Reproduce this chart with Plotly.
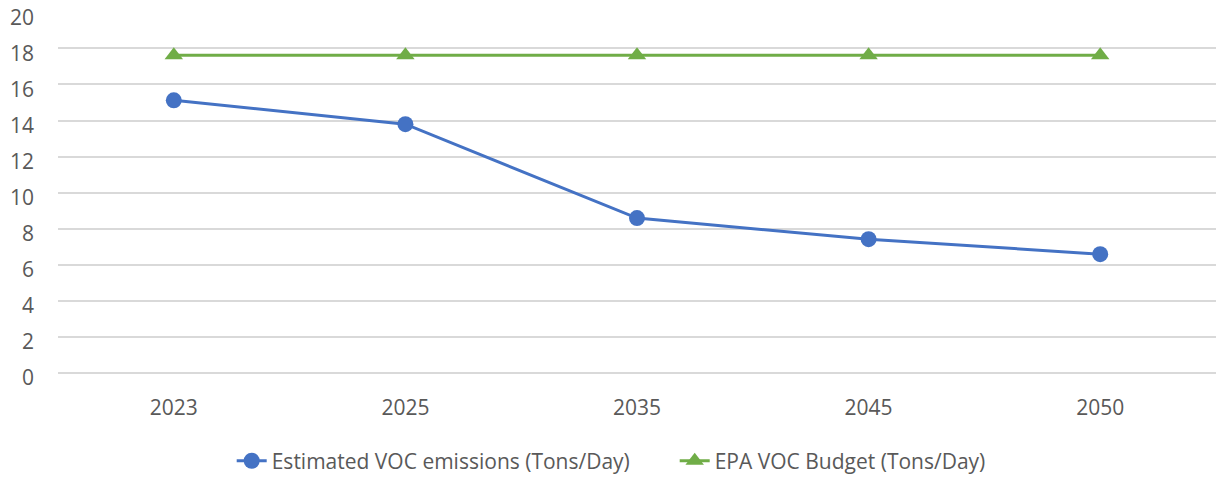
import plotly.graph_objects as go

# === PODACI ===
years = ["2023", "2025", "2035", "2045", "2050"]
voc_emissions = [15.12, 13.8, 8.59, 7.42, 6.59]
voc_budget = [17.62, 17.62, 17.62, 17.62, 17.62]

BLUE = "#4472C4"
GREEN = "#70AD47"
TXT = "#595959"
FONT = "Open Sans"

fig = go.Figure()
fig.add_trace(go.Scatter(x=years, y=voc_emissions,
                         name="Estimated VOC emissions (Tons/Day)",
                         mode="lines+markers",
                         line=dict(color=BLUE, width=3),
                         marker=dict(symbol="circle", size=16, color=BLUE)))
fig.add_trace(go.Scatter(x=years, y=voc_budget,
                         name="EPA VOC Budget (Tons/Day)",
                         mode="lines+markers",
                         line=dict(color=GREEN, width=3),
                         marker=dict(symbol="triangle-up", size=16, color=GREEN)))

fig.update_layout(width=1217, height=486,
                  margin=dict(l=58, r=1, t=12, b=113, autoexpand=False),
                  plot_bgcolor="white", paper_bgcolor="white",
                  font=dict(family=FONT, size=21, color=TXT),
                  showlegend=True,
                  legend=dict(orientation="h", x=0.150, xanchor="left",
                              y=-0.244, yanchor="middle",
                              entrywidth=398, entrywidthmode="pixels",
                              font=dict(size=21, color=TXT)),
                  xaxis=dict(type="category", range=[-0.5, 4.5],
                             showgrid=False, showline=False, ticks="",
                             automargin=False, ticklabelstandoff=20),
                  yaxis=dict(range=[0, 20.02], tick0=0, dtick=2,
                             showgrid=True, gridcolor="#D9D9D9", gridwidth=2,
                             zeroline=True, zerolinecolor="#D9D9D9", zerolinewidth=2,
                             showline=False, ticks="", automargin=False,
                             ticklabeloverflow="allow", ticklabelshift=5,
                             ticklabelstandoff=23))

# makni rub stranice (body margin)
fig.write_html("out.html", config={"displayModeBar": False},
               post_script="document.body.style.margin='0';")
